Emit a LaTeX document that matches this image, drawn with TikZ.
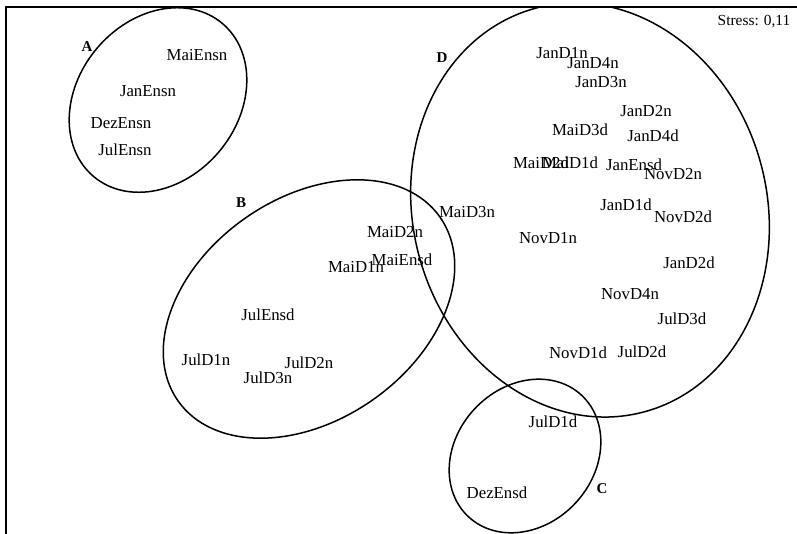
\documentclass[tikz,border=0pt]{standalone}
\usepackage{fontspec}
\setmainfont{Liberation Serif}
\begin{document}
\begin{tikzpicture}[x=1pt,y=-1pt,
  lbl/.style={inner sep=0pt, font=\fontsize{16.8}{18}\selectfont},
  grp/.style={inner sep=0pt, font=\fontsize{15}{17}\selectfont\bfseries},
  ring/.style={line width=1.5pt},
  frame/.style={line width=2pt}]
\useasboundingbox (0,0) rectangle (797,534);
\draw[frame] (6,534) -- (6,7) -- (797,7);
\begin{scope}
\clip (6,7) rectangle (797,534);
\draw[ring, rotate around={50:(158,100)}] (158,100) ellipse [x radius=100pt, y radius=80pt];
\draw[ring, rotate around={35:(309,309)}] (309,309) ellipse [x radius=160pt, y radius=111pt];
\draw[ring, rotate around={47:(525,456)}] (525,456) ellipse [x radius=83pt, y radius=69pt];
\draw[ring, rotate around={105:(590,210)}] (590,210) ellipse [x radius=209pt, y radius=177pt];
\end{scope}
% group letters
\node[grp] (gA) at (87,47) {A};
\node[grp] (gB) at (241,203) {B};
\node[grp] (gC) at (602,489) {C};
\node[grp] (gD) at (442,58) {D};
\node[inner sep=0pt, font=\fontsize{15.4}{17}\selectfont] (stress) at (754,22) {Stress: 0,11};
% A
\node[lbl] (maiensn) at (197,55) {MaiEnsn};
\node[lbl] (janensn) at (148,91) {JanEnsn};
\node[lbl] (dezensn) at (121,123) {DezEnsn};
\node[lbl] (julensn) at (125,150) {JulEnsn};
% B
\node[lbl] (maid2n) at (395,232) {MaiD2n};
\node[lbl] (maiensd) at (402,260) {MaiEnsd};
\node[lbl] (maid1n) at (356,267) {MaiD1n};
\node[lbl] (julensd) at (268,315) {JulEnsd};
\node[lbl] (juld1n) at (206,360) {JulD1n};
\node[lbl] (juld2n) at (309,363) {JulD2n};
\node[lbl] (juld3n) at (268,378) {JulD3n};
% D
\node[lbl] (jand1n) at (562,53) {JanD1n};
\node[lbl] (jand4n) at (593,63) {JanD4n};
\node[lbl] (jand3n) at (601,82) {JanD3n};
\node[lbl] (jand2n) at (646,111) {JanD2n};
\node[lbl] (maid3d) at (580,130) {MaiD3d};
\node[lbl] (jand4d) at (653,136) {JanD4d};
\node[lbl] (maid2d) at (541,163) {MaiD2d};
\node[lbl] (maid1d) at (570,163) {MaiD1d};
\node[lbl] (janensd) at (634,165) {JanEnsd};
\node[lbl] (novd2n) at (673,174) {NovD2n};
\node[lbl] (jand1d) at (626,205) {JanD1d};
\node[lbl] (novd2d) at (683,217) {NovD2d};
\node[lbl] (maid3n) at (467,212) {MaiD3n};
\node[lbl] (novd1n) at (548,238) {NovD1n};
\node[lbl] (jand2d) at (689,263) {JanD2d};
\node[lbl] (novd4n) at (630,294) {NovD4n};
\node[lbl] (juld3d) at (682,319) {JulD3d};
\node[lbl] (novd1d) at (578,353) {NovD1d};
\node[lbl] (juld2d) at (642,352) {JulD2d};
% C
\node[lbl] (juld1d) at (553,422) {JulD1d};
\node[lbl] (dezensd) at (497,493) {DezEnsd};
\end{tikzpicture}
\end{document}
